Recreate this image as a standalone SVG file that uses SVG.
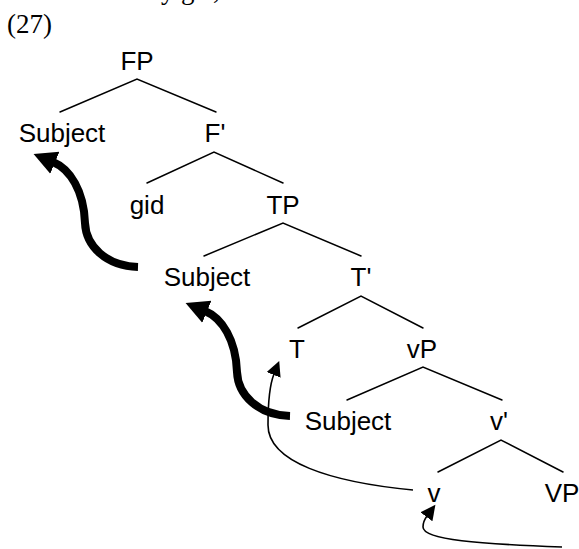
<svg xmlns="http://www.w3.org/2000/svg" width="579" height="549" viewBox="0 0 579 549">
<style>
.lbl{font-family:"Liberation Sans",Arial,sans-serif;font-size:26px;fill:#000;text-anchor:middle}
.ser{font-family:"Liberation Serif","Times New Roman",serif;font-size:27px;fill:#000}
.br{stroke:#000;stroke-width:1.5;fill:none;stroke-linecap:round}
.thin{stroke:#000;stroke-width:1.6;fill:none}
.thick{stroke:#000;stroke-width:8;fill:none}
</style>
<defs>
<marker id="ah-thin" markerUnits="userSpaceOnUse" markerWidth="16" markerHeight="16" refX="1" refY="7.5" orient="auto" viewBox="0 0 16 16">
<path d="M0,0 L15,7.5 L0,15 z" fill="#000"/>
</marker>
<marker id="ah-thick" markerUnits="userSpaceOnUse" markerWidth="26" markerHeight="26" refX="2" refY="12" orient="auto" viewBox="0 0 26 26">
<path d="M0,0 L23,12 L0,24 z" fill="#000"/>
</marker>
</defs>
<rect width="579" height="549" fill="#fff"/>
<text class="ser" y="-1"><tspan x="161">y</tspan><tspan x="181">g</tspan><tspan x="213">,</tspan></text>
<text class="ser" x="7" y="33">(27)</text>
<g id="branches">
<path class="br" d="M60,112 L137,79 L216,112"/>
<path class="br" d="M147,183 L214,152 L283,183"/>
<path class="br" d="M204,256 L283,223 L361,256"/>
<path class="br" d="M298,328 L361,296 L423,328"/>
<path class="br" d="M347,400 L423,367 L502,400"/>
<path class="br" d="M438,472 L501,440 L563,472"/>
</g>
<g id="n-FP"><text class="lbl" x="137" y="70">FP</text></g>
<g id="n-Subject1"><text class="lbl" x="62" y="142">Subject</text></g>
<g id="n-Fbar"><text class="lbl" x="215" y="142">F'</text></g>
<g id="n-gid"><text class="lbl" x="147" y="214">gid</text></g>
<g id="n-TP"><text class="lbl" x="283" y="214">TP</text></g>
<g id="n-Subject2"><text class="lbl" x="207" y="286">Subject</text></g>
<g id="n-Tbar"><text class="lbl" x="361" y="286">T'</text></g>
<g id="n-T"><text class="lbl" x="297" y="358">T</text></g>
<g id="n-vP"><text class="lbl" x="422" y="358">vP</text></g>
<g id="n-Subject3"><text class="lbl" x="348" y="430">Subject</text></g>
<g id="n-vbar"><text class="lbl" x="499" y="430">v'</text></g>
<g id="n-v"><text class="lbl" x="434" y="502">v</text></g>
<g id="n-VP"><text class="lbl" x="562" y="502">VP</text></g>
<g id="connectors">
<path class="thick" marker-end="url(#ah-thick)" d="M138,267 C106,266 86,246 85,223 C84,191 70,169 53,162"/>
<path class="thick" marker-end="url(#ah-thick)" d="M290,416 C258,415 238,395 237,372 C236,340 222,318 205,311"/>
<path class="thin" marker-end="url(#ah-thin)" d="M413,490 C330,482 268,462 268,425 C268,400 270,384 274,374"/>
<path class="thin" marker-end="url(#ah-thin)" d="M562,547 C480,544 423,540 423,527 C423,524 424,520 427,516"/>
</g>
</svg>
